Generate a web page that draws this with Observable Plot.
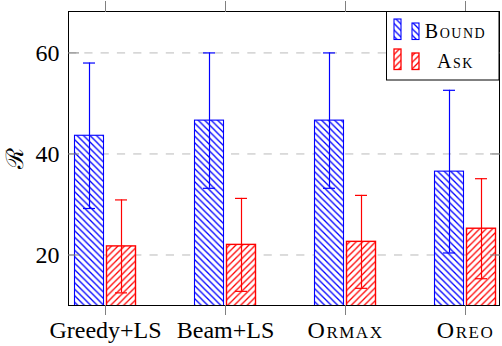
<!DOCTYPE html>
<html><head><meta charset="utf-8">
<script src="https://cdn.jsdelivr.net/npm/d3@7"></script>
<script src="https://cdn.jsdelivr.net/npm/@observablehq/plot@0.6"></script>
<style>
html,body{margin:0;padding:0;background:#fff;}
#wrap{position:relative;width:502px;height:346px;overflow:hidden;}
#wrap > svg{position:absolute;left:0;top:0;}
g[font-variant="small-caps"], text.sc {letter-spacing:1.5px;}
</style></head><body>
<svg width="0" height="0" style="position:absolute">
<defs>
<pattern id="hatchBound" patternUnits="userSpaceOnUse" width="6.5" height="6.5">
<rect width="6.5" height="6.5" fill="white"/>
<path d="M0,0L6.5,6.5M-1,5.5L1,7.5M5.5,-1L7.5,1" stroke="#0000ff" stroke-width="1.3"/>
</pattern>
<pattern id="hatchAsk" patternUnits="userSpaceOnUse" width="6.5" height="6.5">
<rect width="6.5" height="6.5" fill="white"/>
<path d="M0,6.5L6.5,0M-1,1L1,-1M5.5,7.5L7.5,5.5" stroke="#ff0000" stroke-width="1.3"/>
</pattern>
</defs>
</svg>
<div id="wrap"></div>
<script>
const categories = ["Greedy+LS", "Beam+LS", "Ormax", "Oreo"];
const series = ["Bound", "Ask"];
const boundMean = [43.6, 46.6, 46.6, 36.5];
const boundErr = [14.4, 13.4, 13.4, 16.1];
const askMean = [21.7, 22.0, 22.6, 25.2];
const askErr = [9.2, 9.2, 9.2, 9.9];
const yTicks = [20, 40, 60];

const rows = categories.flatMap((c, i) => [
  {category: c, series: series[0], mean: boundMean[i], err: boundErr[i]},
  {category: c, series: series[1], mean: askMean[i], err: askErr[i]}
]);
const bound = rows.filter(d => d.series === "Bound");
const ask = rows.filter(d => d.series === "Ask");
const lo = d => d.mean - d.err, hi = d => d.mean + d.err;
const BLUE = "#0000ff", RED = "#ff0000", TICK = "#808080";

const chart = Plot.plot({
  width: 502, height: 346,
  marginLeft: 68, marginRight: 3, marginTop: 11, marginBottom: 41,
  style: {fontFamily: "'Liberation Serif', serif", fontSize: "24px", background: "white", overflow: "visible"},
  x: {domain: categories, paddingInner: 0.4838, paddingOuter: 0.036, align: 0.69},
  y: {domain: [10, 68.2]},
  marks: [
    Plot.gridY(yTicks, {stroke: "#bababa", strokeOpacity: 1, strokeDasharray: "8.2,8.1"}),
    Plot.barY(bound, {x: "category", y: "mean", fill: "url(#hatchBound)", stroke: BLUE, strokeWidth: 1.1, insetLeft: 0.5, insetRight: 32.5, clip: true}),
    Plot.barY(ask, {x: "category", y: "mean", fill: "url(#hatchAsk)", stroke: RED, strokeWidth: 1.4, insetLeft: 32.5, insetRight: 0.5, clip: true}),
    Plot.ruleX(bound, {x: "category", y1: lo, y2: hi, stroke: BLUE, strokeWidth: 1.2, dx: -16}),
    Plot.tickY(bound, {x: "category", y: lo, stroke: BLUE, strokeWidth: 1.2, insetLeft: 9, insetRight: 41}),
    Plot.tickY(bound, {x: "category", y: hi, stroke: BLUE, strokeWidth: 1.2, insetLeft: 9, insetRight: 41}),
    Plot.ruleX(ask, {x: "category", y1: lo, y2: hi, stroke: RED, strokeWidth: 1.2, dx: 16}),
    Plot.tickY(ask, {x: "category", y: lo, stroke: RED, strokeWidth: 1.2, insetLeft: 41, insetRight: 9}),
    Plot.tickY(ask, {x: "category", y: hi, stroke: RED, strokeWidth: 1.2, insetLeft: 41, insetRight: 9}),
    Plot.frame({stroke: "black", strokeWidth: 1}),
    Plot.axisY(yTicks, {tickSize: -11, tickPadding: 20, stroke: TICK, fill: "black", label: "ℛ", labelAnchor: "center", labelOffset: 63, labelArrow: "none"}),
    Plot.axisY(yTicks, {anchor: "right", tickSize: -10, tickFormat: () => "", stroke: TICK, label: null}),
    Plot.axisX(categories.slice(0, 2), {tickSize: 10, tickPadding: 5, stroke: TICK, fill: "black", label: null}),
    Plot.axisX(categories.slice(2), {tickSize: 10, tickPadding: 5, stroke: TICK, fill: "black", fontVariant: "small-caps", label: null}),
    Plot.axisX(categories, {anchor: "top", tickSize: 11, tickFormat: () => "", stroke: TICK, label: null})
  ]
});
const wrap = document.getElementById("wrap");
wrap.appendChild(chart);

// legend (inside the plot frame, top right)
const legendEntries = [
  {label: series[0], fill: "url(#hatchBound)", stroke: BLUE, sw: 1.1, y: 39.5},
  {label: series[1], fill: "url(#hatchAsk)", stroke: RED, sw: 1.3, y: 69.5}
];
const ns = "http://www.w3.org/2000/svg";
const leg = document.createElementNS(ns, "svg");
leg.setAttribute("width", 502); leg.setAttribute("height", 346);
leg.setAttribute("font-family", "'Liberation Serif', serif");
let html = `<rect x="386.5" y="11.5" width="112.5" height="68.5" fill="white" stroke="black" stroke-width="1"/>`;
for (const e of legendEntries) {
  html += `<rect x="394" y="${e.y - 20.5}" width="7" height="20.5" fill="${e.fill}" stroke="${e.stroke}" stroke-width="${e.sw}"/>`;
  html += `<rect x="412" y="${e.y - 16.5}" width="7" height="16.5" fill="${e.fill}" stroke="${e.stroke}" stroke-width="${e.sw}"/>`;
  html += `<text class="sc" x="455.5" y="${e.y - 2}" text-anchor="middle" font-size="20" font-variant="small-caps">${e.label}</text>`;
}
leg.innerHTML = html;
wrap.appendChild(leg);
</script>
</body></html>
